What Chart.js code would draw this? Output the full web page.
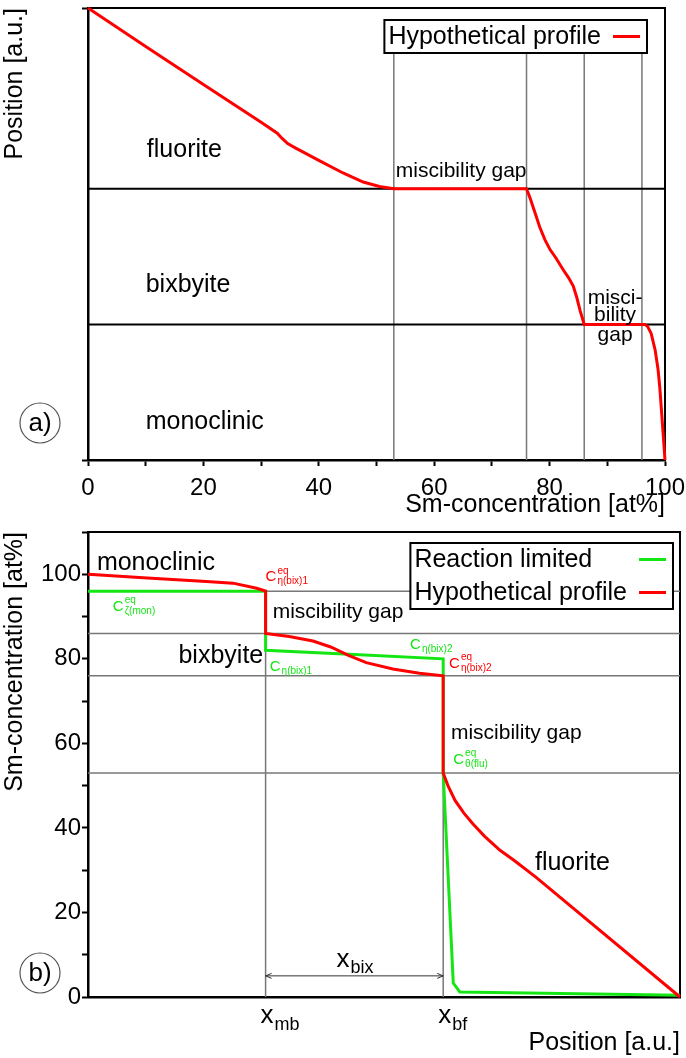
<!DOCTYPE html>
<html lang="en">
<head>
<meta charset="UTF-8">
<title>Sm concentration profiles</title>
<style>
  body { margin: 0; background: #fff; }
  .panel { position: absolute; left: 0; width: 686px; }
  #panelA { top: 0; height: 520px; }
  #panelB { top: 520px; height: 538px; }
</style>
<script src="https://cdn.jsdelivr.net/npm/chart.js"></script>
</head>
<body>
<div class="panel" id="panelA"><canvas id="chartA" width="686" height="520"></canvas></div>
<div class="panel" id="panelB"><canvas id="chartB" width="686" height="538"></canvas></div>

<script>
// ---- panel a) : position vs Sm concentration ----
const profileAConc = [0, 10, 20, 30, 32.8, 33.6, 34.6, 36, 40, 44.2, 47.7, 50.5, 53,
                      76, 76.6, 77.5, 78.3, 79.2, 80.1, 81.1, 82.3, 83.3, 84.1, 84.7, 85.3, 86,
                      96.5, 97, 97.6, 98.3, 98.8, 99.1, 99.5, 100];
const profileAPos  = [10, 9.15, 8.31, 7.47, 7.23, 7.12, 7.0, 6.9, 6.63, 6.35, 6.15, 6.05, 6,
                      6, 5.8, 5.46, 5.15, 4.87, 4.65, 4.47, 4.22, 4.03, 3.85, 3.6, 3.3, 3,
                      3, 2.95, 2.8, 2.43, 2.0, 1.6, 0.9, 0];
const gapBounds = [53, 76, 86, 96];          // at% limits of the miscibility gaps
const phaseLevelsA = [6, 3];                 // interfaces fluorite/bixbyite, bixbyite/monoclinic
const phaseNames = ['fluorite', 'bixbyite', 'monoclinic'];
const gapLineTopA = 9;

// ---- panel b) : Sm concentration vs position ----
const profileBPos  = [0, 10, 20, 24.5, 28.5, 30, 30, 34, 38, 41, 44, 47, 51.5, 56, 60,
                      60, 60.8, 62, 63.5, 65, 67, 69.6, 72, 75.7, 100];
const profileBConc = [100, 99.1, 98.3, 97.9, 96.7, 96, 86, 85.3, 84.2, 82.8, 80.8, 79.1, 77.6, 76.6, 76,
                      53, 50, 46.5, 43.5, 41, 38, 34.7, 32.3, 28.3, 0];
const reactionPos  = [0, 30, 30, 45, 60, 60, 61.7, 62.8, 100];
const reactionConc = [96, 96, 82, 81, 80, 53, 3.3, 1.2, 0.4];
const levelsB = [96, 86, 76, 53];
const interfacePos = [30, 60];
const interfaceTop = [96, 80];
const interfaceNames = ['mb', 'bf'];

const FAM = "'Liberation Sans', Arial, sans-serif";
const RED = '#ff0000';
const GREEN = '#14e614';
const GRAY = '#777';

Chart.defaults.font.family = FAM;
Chart.defaults.color = '#000';
Chart.defaults.animation = false;

function xy(xs, ys) { return xs.map((x, i) => ({ x: x, y: ys[i] })); }

function seg(data, color, width, order) {
  return { data: data, borderColor: color, borderWidth: width, pointRadius: 0, order: order, clip: false, tension: 0 };
}

function txt(ctx, s, x, y, size, color, align) {
  ctx.font = size + 'px ' + FAM;
  ctx.fillStyle = color || '#000';
  ctx.textAlign = align || 'left';
  ctx.textBaseline = 'middle';
  ctx.fillText(s, x, y);
}

// main letter with superscript / subscript
function subText(ctx, x, y, main, sup, sub, color, big, small, subDy) {
  ctx.save();
  ctx.fillStyle = color;
  ctx.textAlign = 'left';
  ctx.textBaseline = 'alphabetic';
  ctx.font = big + 'px ' + FAM;
  ctx.fillText(main, x, y);
  const w = ctx.measureText(main).width + 1;
  ctx.font = small + 'px ' + FAM;
  if (sup) ctx.fillText(sup, x + w, y - big * 0.53);
  if (sub) ctx.fillText(sub, x + w, y + subDy);
  ctx.restore();
}

function frame(chart) {
  const a = chart.chartArea, ctx = chart.ctx;
  ctx.save();
  ctx.strokeStyle = '#000';
  ctx.lineWidth = 2;
  ctx.beginPath();
  ctx.moveTo(a.left, a.top); ctx.lineTo(a.right, a.top); ctx.lineTo(a.right, a.bottom);
  ctx.stroke();
  ctx.restore();
}

function legendBox(ctx, right, top, rows) {
  ctx.save();
  ctx.font = '25px ' + FAM;
  const tw = Math.max(...rows.map(r => ctx.measureText(r.text).width));
  const w = 4 + tw + 12 + 27 + 7, rowH = 33, h = rowH * rows.length;
  const left = right - w;
  ctx.fillStyle = '#fff';
  ctx.fillRect(left, top, w, h);
  ctx.strokeStyle = '#000';
  ctx.lineWidth = 2;
  ctx.strokeRect(left, top, w, h);
  rows.forEach((r, i) => {
    const cy = top + rowH * i + rowH / 2;
    txt(ctx, r.text, left + 4, cy + 1, 25, '#000');
    ctx.strokeStyle = r.color;
    ctx.lineWidth = 3;
    ctx.beginPath();
    ctx.moveTo(right - 34, cy); ctx.lineTo(right - 7, cy);
    ctx.stroke();
  });
  ctx.restore();
}

function circled(ctx, s, cx, cy) {
  ctx.save();
  ctx.strokeStyle = '#555';
  ctx.lineWidth = 1.2;
  ctx.beginPath();
  ctx.arc(cx, cy, 20, 0, Math.PI * 2);
  ctx.stroke();
  txt(ctx, s, cx, cy + 1, 26, '#000', 'center');
  ctx.restore();
}

// ---------- panel a ----------
const dsA = [seg(xy(profileAConc, profileAPos), RED, 3, 0)];
phaseLevelsA.forEach(l => dsA.push(seg([{ x: 0, y: l }, { x: 100, y: l }], '#000', 2, 3)));
gapBounds.forEach(b => dsA.push(seg([{ x: b, y: 0 }, { x: b, y: gapLineTopA }], GRAY, 1.5, 4)));

const decorA = {
  id: 'decorA',
  beforeDatasetsDraw(chart) { frame(chart); },
  afterDatasetsDraw(chart) {
    const ctx = chart.ctx, x = chart.scales.x, y = chart.scales.y, a = chart.chartArea;
    ctx.save();
    txt(ctx, phaseNames[0], x.getPixelForValue(10.2), y.getPixelForValue(6.86), 25);
    txt(ctx, phaseNames[1], x.getPixelForValue(10), y.getPixelForValue(3.87), 25);
    txt(ctx, phaseNames[2], x.getPixelForValue(10), y.getPixelForValue(0.84), 25);
    txt(ctx, 'miscibility gap', x.getPixelForValue(gapBounds[0]) + 2, y.getPixelForValue(6.4), 21);
    const cx = x.getPixelForValue((gapBounds[2] + gapBounds[3]) / 2) + 2;
    txt(ctx, 'misci-', cx, y.getPixelForValue(3.58), 21, '#000', 'center');
    txt(ctx, 'bility', cx, y.getPixelForValue(3.2), 21, '#000', 'center');
    txt(ctx, 'gap', cx, y.getPixelForValue(2.77), 21, '#000', 'center');
    legendBox(ctx, a.right - 18, a.top + 12, [{ text: 'Hypothetical profile', color: RED }]);
    circled(ctx, 'a)', a.left - 48, a.bottom - 37);
    ctx.restore();
  }
};

new Chart(document.getElementById('chartA'), {
  type: 'line',
  data: { datasets: dsA },
  options: {
    responsive: false,
    devicePixelRatio: 1,
    layout: { padding: { top: 8, right: 21, left: 0, bottom: 0 } },
    plugins: { legend: { display: false }, tooltip: { enabled: false } },
    scales: {
      x: {
        type: 'linear', min: 0, max: 100,
        ticks: { stepSize: 10, autoSkip: false, maxRotation: 0, padding: 8, font: { size: 24 },
                 callback: v => (v % 20 === 0 ? v : '') },
        grid: { drawOnChartArea: false, tickLength: 6, color: '#000', tickWidth: 2 },
        border: { color: '#000', width: 2.5 },
        title: { display: true, text: 'Sm-concentration [at%]', align: 'end', padding: 0, font: { size: 25 } },
        afterFit: s => { s.height = 60; s.paddingLeft = 0; s.paddingRight = 0; }
      },
      y: {
        type: 'linear', min: 0, max: 10,
        ticks: { display: false, stepSize: 10 },
        grid: { drawOnChartArea: false, tickLength: 6, color: '#000', tickWidth: 2 },
        border: { color: '#000', width: 2.5 },
        title: { display: true, text: 'Position [a.u.]', align: 'end', padding: 0, font: { size: 25 } },
        afterFit: s => { s.width = 88; s.paddingTop = 0; s.paddingBottom = 0; }
      }
    }
  },
  plugins: [decorA]
});

// ---------- panel b ----------
const dsB = [
  seg(xy(profileBPos, profileBConc), RED, 3, 0),
  seg(xy(reactionPos, reactionConc), GREEN, 3, 1)
];
levelsB.forEach(l => dsB.push(seg([{ x: 0, y: l }, { x: 100, y: l }], GRAY, 1.5, 4)));
interfacePos.forEach((p, i) => dsB.push(seg([{ x: p, y: 0 }, { x: p, y: interfaceTop[i] }], GRAY, 1.5, 4)));

const decorB = {
  id: 'decorB',
  beforeDatasetsDraw(chart) { frame(chart); },
  afterDatasetsDraw(chart) {
    const ctx = chart.ctx, x = chart.scales.x, y = chart.scales.y, a = chart.chartArea;
    const px = v => x.getPixelForValue(v), py = v => y.getPixelForValue(v);
    ctx.save();
    txt(ctx, phaseNames[2], px(1.5), py(102.6), 25);
    txt(ctx, phaseNames[1], px(29.6), py(80.7), 25, '#000', 'right');
    txt(ctx, phaseNames[0], px(75.5), py(31.6), 25);
    txt(ctx, 'miscibility gap', px(31.2), py(91.1), 21);
    txt(ctx, 'miscibility gap', px(61.3), py(62.5), 21);

    subText(ctx, px(30), py(98.3), 'C', 'eq', '\u03b7(bix)1', RED, 15, 10, 3);
    subText(ctx, px(4.2), py(91.3), 'C', 'eq', '\u03b6(mon)', GREEN, 15, 10, 3);
    subText(ctx, px(30.7), py(77.1), 'C', '', '\u03b7(bix)1', GREEN, 15, 10, 3);
    subText(ctx, px(54.4), py(82.3), 'C', '', '\u03b7(bix)2', GREEN, 15, 10, 3);
    subText(ctx, px(61), py(77.8), 'C', 'eq', '\u03b7(bix)2', RED, 15, 10, 3);
    subText(ctx, px(61.7), py(55.2), 'C', 'eq', '\u03b8(flu)', GREEN, 15, 10, 3);

    // width of the bixbyite layer
    const x0 = px(interfacePos[0]), x1 = px(interfacePos[1]), ay = py(5);
    ctx.strokeStyle = '#333';
    ctx.lineWidth = 1;
    ctx.beginPath();
    ctx.moveTo(x0, ay); ctx.lineTo(x1, ay);
    ctx.moveTo(x0 + 6, ay - 2.5); ctx.lineTo(x0, ay); ctx.lineTo(x0 + 6, ay + 2.5);
    ctx.moveTo(x1 - 6, ay - 2.5); ctx.lineTo(x1, ay); ctx.lineTo(x1 - 6, ay + 2.5);
    ctx.stroke();
    ctx.font = '26px ' + FAM;
    const wx = ctx.measureText('x').width;
    ctx.font = '18px ' + FAM;
    const wb = ctx.measureText('bix').width;
    subText(ctx, (x0 + x1) / 2 - (wx + wb) / 2, ay - 9, 'x', '', 'bix', '#000', 26, 18, 6);

    interfacePos.forEach((p, i) => {
      subText(ctx, px(p) - 5, a.bottom + 26, 'x', '', interfaceNames[i], '#000', 26, 18, 7);
    });

    legendBox(ctx, a.right - 7, a.top + 11, [
      { text: 'Reaction limited', color: GREEN },
      { text: 'Hypothetical profile', color: RED }
    ]);
    circled(ctx, 'b)', a.left - 48, a.bottom - 24);
    ctx.restore();
  }
};

new Chart(document.getElementById('chartB'), {
  type: 'line',
  data: { datasets: dsB },
  options: {
    responsive: false,
    devicePixelRatio: 1,
    layout: { padding: { top: 12, right: 6, left: 0, bottom: 0 } },
    plugins: { legend: { display: false }, tooltip: { enabled: false } },
    scales: {
      x: {
        type: 'linear', min: 0, max: 100,
        ticks: { display: false },
        grid: { display: false },
        border: { color: '#000', width: 2.5 },
        title: { display: true, text: 'Position [a.u.]', align: 'end', padding: 0, font: { size: 25 } },
        afterFit: s => { s.height = 61; s.paddingLeft = 0; s.paddingRight = 0; }
      },
      y: {
        type: 'linear', min: 0, max: 110,
        ticks: { stepSize: 10, autoSkip: false, padding: 1, font: { size: 24 },
                 callback: v => (v % 20 === 0 && v <= 100 ? v : '') },
        grid: { drawOnChartArea: false, tickLength: 6, color: '#000', tickWidth: 2 },
        border: { color: '#000', width: 2.5 },
        title: { display: true, text: 'Sm-concentration [at%]', align: 'end', padding: 0, font: { size: 25 } },
        afterFit: s => { s.width = 88; s.paddingTop = 0; s.paddingBottom = 0; }
      }
    }
  },
  plugins: [decorB]
});
</script>
</body>
</html>
